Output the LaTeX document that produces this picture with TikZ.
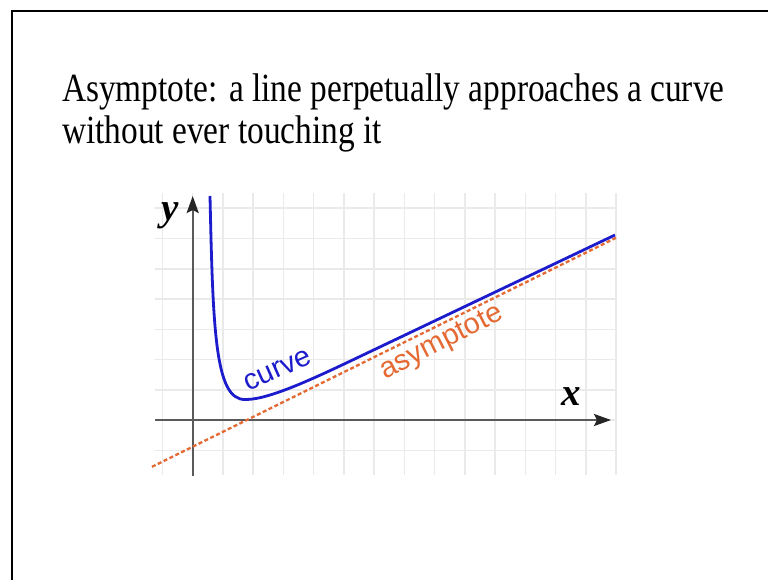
\documentclass[tikz,border=0pt]{standalone}
\usepackage{fontspec}
\setmainfont{Liberation Serif}
\newfontfamily\sansf{Liberation Sans}
\usetikzlibrary{arrows.meta}
\definecolor{gridc}{RGB}{234,234,234}
\definecolor{axisc}{RGB}{90,90,90}
\definecolor{curveblue}{RGB}{28,28,205}
\definecolor{asyorange}{RGB}{228,105,50}
\begin{document}
\begin{tikzpicture}[x=1pt,y=-1pt,
  gridline/.style={gridc, line width=1.5pt},
  axisline/.style={axisc, line width=2.4pt, -{Stealth[length=17pt,width=12pt,inset=3pt,color=black!85]}},
  asyline/.style={asyorange, line width=2.3pt, dash pattern=on 4pt off 2.5pt},
  curveline/.style={curveblue, line width=2.8pt},
  titletext/.style={anchor=base west, inner sep=0pt, font=\fontsize{40}{40}\selectfont},
  axislabel/.style={anchor=base, inner sep=0pt, font=\fontsize{39}{39}\selectfont\bfseries\itshape},
  curvetext/.style={anchor=base, inner sep=0pt, font=\sansf\fontsize{29}{29}\selectfont}
]
\useasboundingbox (0,0) rectangle (768,580);
\fill[white] (0,0) rectangle (768,580);
\draw[line width=2pt] (11.7,582) -- (11.7,10.7) -- (770,10.7);

\node[titletext] (title1) at (62,101.5) {\scalebox{0.834}[1]{Asymptote: a line perpetually approaches a curve}};
\node[titletext] (title2) at (62,143.3) {\scalebox{0.834}[1]{without ever touching it}};

\foreach \k in {-1,...,14} \draw[gridline] ({192.7+30.25*\k},193) -- ({192.7+30.25*\k},475);
\foreach \k in {-1,...,7} \draw[gridline] (155,{420-30.25*\k}) -- (617,{420-30.25*\k});

\coordinate (xs) at (155,420);
\coordinate (xe) at (611,420);
\coordinate (ys) at (192.7,476);
\coordinate (ye) at (192.7,196);
\draw[axisline] (xs) -- (xe);
\draw[axisline] (ys) -- (ye);

\coordinate (as) at (152,466.8);
\coordinate (ae) at (616,237.8);
\draw[asyline] (as) -- (ae);

\coordinate (cs) at (210,196);
\coordinate (cm) at (245,399.5);
\coordinate (cn) at (370,351.7);
\coordinate (ce) at (615,235);
\draw[curveline] (cs) .. controls (213,330) and (215,400) .. (cm) .. controls (270,400) and (320,375.5) .. (cn) -- (ce);

\node[axislabel] (ylab) at (170,220) {y};
\node[axislabel] (xlab) at (571,405) {x};
\node[curvetext, text=curveblue, rotate=24] (curvelab) at (281,377) {curve};
\node[curvetext, text=asyorange, rotate=27] (asylab) at (445,349) {asymptote};
\end{tikzpicture}
\end{document}
